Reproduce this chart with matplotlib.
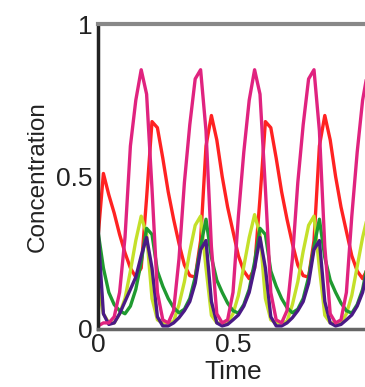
import numpy as np
import matplotlib
matplotlib.use('Agg')
import matplotlib.pyplot as plt

plt.rcParams['font.family'] = ['Liberation Sans', 'DejaVu Sans']

# sample times
time = [0.00, 0.02, 0.04, 0.06, 0.08, 0.10, 0.12, 0.14, 0.16, 0.18,
        0.20, 0.22, 0.24, 0.26, 0.28, 0.30, 0.32, 0.34, 0.36, 0.38,
        0.40, 0.42, 0.44, 0.46, 0.48, 0.50, 0.52, 0.54, 0.56, 0.58,
        0.60, 0.62, 0.64, 0.66, 0.68, 0.70, 0.72, 0.74, 0.76, 0.78,
        0.80, 0.82, 0.84, 0.86, 0.88, 0.90, 0.92, 0.94, 0.96, 0.98, 1.00]

# concentrations
pink = [0.01, 0.02, 0.02, 0.04, 0.12, 0.30, 0.60, 0.75, 0.85,
        0.77, 0.46, 0.12, 0.03, 0.02, 0.06, 0.23, 0.48, 0.67, 0.82,
        0.85, 0.65, 0.27, 0.05, 0.02, 0.03, 0.12, 0.37, 0.58, 0.75, 0.85,
        0.77, 0.46, 0.12, 0.03, 0.02, 0.06, 0.23, 0.48, 0.67, 0.82,
        0.85, 0.65, 0.27, 0.05, 0.02, 0.03, 0.12, 0.37, 0.58, 0.75, 0.85]
red = [0.30, 0.51, 0.44, 0.38, 0.31, 0.25, 0.20, 0.17, 0.20,
       0.43, 0.68, 0.66, 0.56, 0.45, 0.36, 0.28, 0.21, 0.175, 0.17,
       0.29, 0.60, 0.70, 0.62, 0.50, 0.40, 0.32, 0.24, 0.19, 0.165, 0.20,
       0.43, 0.68, 0.66, 0.56, 0.45, 0.36, 0.28, 0.21, 0.175, 0.17,
       0.29, 0.60, 0.70, 0.62, 0.50, 0.40, 0.32, 0.24, 0.19, 0.165, 0.20]
lime = [0.14, 0.05, 0.02, 0.02, 0.05, 0.10, 0.19, 0.29, 0.37,
        0.31, 0.10, 0.03, 0.02, 0.02, 0.025, 0.08, 0.155, 0.255, 0.34,
        0.37, 0.20, 0.045, 0.02, 0.02, 0.02, 0.05, 0.11, 0.205, 0.30, 0.375,
        0.31, 0.10, 0.03, 0.02, 0.02, 0.025, 0.08, 0.155, 0.255, 0.34,
        0.37, 0.20, 0.045, 0.02, 0.02, 0.02, 0.05, 0.11, 0.205, 0.30, 0.375]
green = [0.32, 0.20, 0.12, 0.08, 0.06, 0.05, 0.075, 0.13, 0.22,
         0.33, 0.31, 0.19, 0.14, 0.10, 0.07, 0.053, 0.065, 0.10, 0.17,
         0.27, 0.36, 0.235, 0.16, 0.12, 0.085, 0.06, 0.052, 0.08, 0.13, 0.22,
         0.33, 0.31, 0.19, 0.14, 0.10, 0.07, 0.053, 0.065, 0.10, 0.17,
         0.27, 0.36, 0.235, 0.16, 0.12, 0.085, 0.06, 0.052, 0.08, 0.13, 0.22]
purple = [0.32, 0.05, 0.015, 0.02, 0.05, 0.09, 0.13, 0.17, 0.24,
          0.30, 0.20, 0.04, 0.01, 0.01, 0.02, 0.037, 0.06, 0.09, 0.15,
          0.26, 0.29, 0.09, 0.02, 0.01, 0.015, 0.03, 0.046, 0.075, 0.12, 0.20,
          0.30, 0.20, 0.04, 0.01, 0.01, 0.02, 0.037, 0.06, 0.09, 0.15,
          0.26, 0.29, 0.09, 0.02, 0.01, 0.015, 0.03, 0.046, 0.075, 0.12, 0.20]

xticks = [0, 0.5]
yticks = [0, 0.5, 1]

fig = plt.figure(figsize=(3.65, 3.87), dpi=100)
# the axes run past the right border, as in the cropped original
ax = fig.add_axes([98 / 365, 58 / 387, 270 / 365, 305 / 387])

lw = 2.4
ax.plot(time, red, color='#ff2222', lw=lw)
ax.plot(time, lime, color='#c4e02a', lw=lw)
ax.plot(time, green, color='#1f9a30', lw=lw)
ax.plot(time, purple, color='#4a1a86', lw=lw)
ax.plot(time, pink, color='#e0237f', lw=lw)

ax.set_xlim(0, 1)
ax.set_ylim(0, 1)
ax.set_xticks(xticks)
ax.set_xticklabels(['0', '0.5'])
ax.set_yticks(yticks)
ax.set_yticklabels(['0', '0.5', '1'])
ax.tick_params(length=0, labelsize=19, colors='#222222')
ax.tick_params(axis='y', pad=4)
ax.tick_params(axis='x', pad=3)

ax.spines['left'].set_color('#222222')
ax.spines['left'].set_linewidth(2.5)
ax.spines['top'].set_color('#888888')
ax.spines['top'].set_linewidth(3)
ax.spines['bottom'].set_color('#666666')
ax.spines['bottom'].set_linewidth(2.5)
ax.spines['right'].set_visible(False)

ax.set_xlabel('Time', fontsize=19, color='#222222', labelpad=2)
ax.set_ylabel('Concentration', fontsize=17.5, color='#222222', labelpad=5)

fig.savefig('out.png', dpi=100)
